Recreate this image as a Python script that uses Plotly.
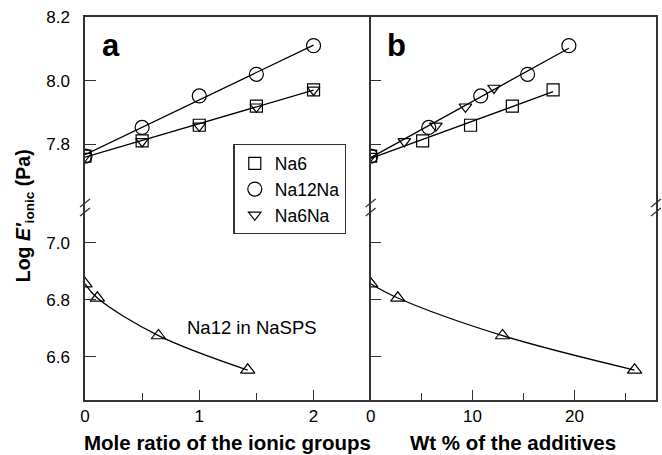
import plotly.graph_objects as go
import numpy as np

# ---------------- data ----------------
mole_x = [0, 0.5, 1, 1.5, 2]
na6_a_y = [7.763, 7.811, 7.860, 7.920, 7.971]
na12na_a_y = [7.763, 7.853, 7.952, 8.020, 8.110]
na6na_a_y = [7.763, 7.809, 7.858, 7.918, 7.971]

na6_b_x = [0, 5.1, 9.8, 13.9, 17.9]
na6_b_y = [7.763, 7.811, 7.860, 7.920, 7.971]
na12na_b_x = [0, 5.7, 10.8, 15.4, 19.45]
na12na_b_y = [7.763, 7.853, 7.952, 8.020, 8.110]
na6na_b_x = [0, 3.3, 6.4, 9.3, 12.1]
na6na_b_y = [7.763, 7.809, 7.858, 7.918, 7.977]

na12_a_x = [0, 0.108, 0.643, 1.424]
na12_b_x = [0, 2.66, 12.94, 25.9]
na12_y = [6.856, 6.806, 6.674, 6.553]

FONT = "Liberation Sans, Arial, sans-serif"
AX = "#333333"
LW = 1.3

fig = go.Figure()


def fit_line(xs, ys, xref, yref):
    k, b = np.polyfit(xs, ys, 1)
    x0, x1 = min(xs), max(xs)
    fig.add_trace(go.Scatter(x=[x0, x1], y=[k * x0 + b, k * x1 + b], mode="lines",
                             line=dict(color="black", width=LW), showlegend=False,
                             xaxis=xref, yaxis=yref, hoverinfo="skip"))


def markers(xs, ys, sym, size, name, xref, yref, legend):
    fig.add_trace(go.Scatter(x=xs, y=ys, mode="markers", name=name,
                             marker=dict(symbol=sym, size=size, color="black",
                                         line=dict(color="black", width=1.2)),
                             showlegend=legend, xaxis=xref, yaxis=yref))


# upper panel a
fit_line(mole_x, na6_a_y, "x3", "y3")
fit_line(mole_x, na12na_a_y, "x3", "y3")
markers(mole_x, na6_a_y, "square-open", 12, "Na6", "x3", "y3", True)
markers(mole_x, na12na_a_y, "circle-open", 14, "Na12Na", "x3", "y3", True)
markers(mole_x, na6na_a_y, "triangle-down-open", 11, "Na6Na", "x3", "y3", True)

# upper panel b
fit_line(na6_b_x, na6_b_y, "x4", "y4")
fit_line(na12na_b_x, na12na_b_y, "x4", "y4")
markers(na6_b_x, na6_b_y, "square-open", 12, "Na6", "x4", "y4", False)
markers(na12na_b_x, na12na_b_y, "circle-open", 14, "Na12Na", "x4", "y4", False)
markers(na6na_b_x, na6na_b_y, "triangle-down-open", 11, "Na6Na", "x4", "y4", False)

# lower panels
for xs, xr, yr in [(na12_a_x, "x", "y"), (na12_b_x, "x2", "y2")]:
    fig.add_trace(go.Scatter(x=xs, y=na12_y, mode="lines",
                             line=dict(color="black", width=LW, shape="spline", smoothing=1.0),
                             showlegend=False, xaxis=xr, yaxis=yr, hoverinfo="skip"))
    markers(xs, na12_y, "triangle-up-open", 12.5, "Na12 in NaSPS", xr, yr, False)

tickfont = dict(family=FONT, size=17, color="black")
SPLIT = 0.5013
XSPLIT = 0.5003

common_x = dict(showline=True, linecolor=AX, linewidth=1.5, showgrid=False, zeroline=False,
                ticks="inside", ticklen=10, tickwidth=1.3, tickcolor=AX, tickfont=tickfont)
common_y = dict(showline=True, linecolor=AX, linewidth=1.5, showgrid=False, zeroline=False,
                ticks="inside", ticklen=11, tickwidth=1.3, tickcolor=AX, tickfont=tickfont,
                ticklabelstandoff=10)

fig.update_layout(
    width=662, height=455,
    margin=dict(l=85, r=4, t=17, b=55),
    paper_bgcolor="white", plot_bgcolor="white",
    font=dict(family=FONT, size=17, color="black"),
    xaxis=dict(common_x, domain=[0, XSPLIT], range=[0, 2.5], anchor="y",
               tickvals=[0, 1, 2], ticktext=["0", "1", "2"],
               minor=dict(tickvals=[0.5, 1.5], ticks="inside", ticklen=7, tickcolor=AX, tickwidth=1.3)),
    xaxis2=dict(common_x, domain=[XSPLIT, 1], range=[0, 28], anchor="y2",
                tickvals=[0, 10, 20],
                minor=dict(tickvals=[5, 15, 25], ticks="inside", ticklen=7, tickcolor=AX, tickwidth=1.3)),
    xaxis3=dict(domain=[0, XSPLIT], range=[0, 2.5], anchor="y3", side="top", showline=True,
                linecolor=AX, linewidth=1.5, showticklabels=False, ticks="", showgrid=False, zeroline=False),
    xaxis4=dict(domain=[XSPLIT, 1], range=[0, 28], anchor="y4", side="top", showline=True,
                linecolor=AX, linewidth=1.5, showticklabels=False, ticks="", showgrid=False, zeroline=False),
    yaxis=dict(common_y, domain=[0, SPLIT], range=[6.448, 7.122], anchor="x",
               tickvals=[6.6, 6.8, 7.0], ticktext=["6.6", "6.8", "7.0"]),
    yaxis2=dict(common_y, domain=[0, SPLIT], range=[6.448, 7.122], anchor="x2", mirror=True,
                tickvals=[6.6, 6.8, 7.0], showticklabels=False),
    yaxis3=dict(common_y, domain=[SPLIT, 1], range=[7.6, 8.2], anchor="x3",
                tickvals=[7.8, 8.0, 8.2], ticktext=["7.8", "8.0", "8.2"]),
    yaxis4=dict(common_y, domain=[SPLIT, 1], range=[7.6, 8.2], anchor="x4", mirror=True,
                tickvals=[7.8, 8.0, 8.2], showticklabels=False),
    legend=dict(x=(234 - 85) / 573.0, y=0.668, xanchor="left", yanchor="top", bordercolor=AX,
                borderwidth=1.3, bgcolor="white", font=dict(family=FONT, size=17.5, color="black"),
                itemwidth=30, tracegroupgap=0),
    showlegend=True,
)

# break marks
W, H = 573.0, 383.0
shapes = []
for xp in [0, XSPLIT, 1]:
    for yc in [203, 212]:
        yp = (400 - yc) / H
        shapes.append(dict(type="line", xref="paper", yref="paper",
                           x0=xp - 5 / W, x1=xp + 5 / W, y0=yp - 4 / H, y1=yp + 4 / H,
                           line=dict(color=AX, width=1.3)))
fig.update_layout(shapes=shapes)

annots = [
    dict(text="<b>a</b>", x=(100 - 85) / W, y=(400 - 45) / H, xref="paper", yref="paper",
         xanchor="left", yanchor="middle", showarrow=False, font=dict(family=FONT, size=31)),
    dict(text="<b>b</b>", x=(386 - 85) / W, y=(400 - 45) / H, xref="paper", yref="paper",
         xanchor="left", yanchor="middle", showarrow=False, font=dict(family=FONT, size=31)),
    dict(text="Na12 in NaSPS", x=1.458, y=6.702, xref="x", yref="y", showarrow=False,
         xanchor="center", yanchor="middle", font=dict(family=FONT, size=18.5)),
    dict(text="<b>Mole ratio of the ionic groups</b>", x=(228.5 - 85) / W, y=(400 - 442) / H,
         xref="paper", yref="paper", showarrow=False, xanchor="center", yanchor="middle",
         font=dict(family=FONT, size=20.5)),
    dict(text="<b>Wt % of the additives</b>", x=(514.5 - 85) / W, y=(400 - 442) / H,
         xref="paper", yref="paper", showarrow=False, xanchor="center", yanchor="middle",
         font=dict(family=FONT, size=20.5)),
    dict(text="<b>Log <i>E'</i><sub>ionic</sub> (Pa)</b>", x=(24 - 85) / W, y=(400 - 216) / H,
         xref="paper", yref="paper", showarrow=False, textangle=-90,
         xanchor="center", yanchor="middle", font=dict(family=FONT, size=19.5)),
]
fig.update_layout(annotations=annots)

fig.write_html("out.html")
